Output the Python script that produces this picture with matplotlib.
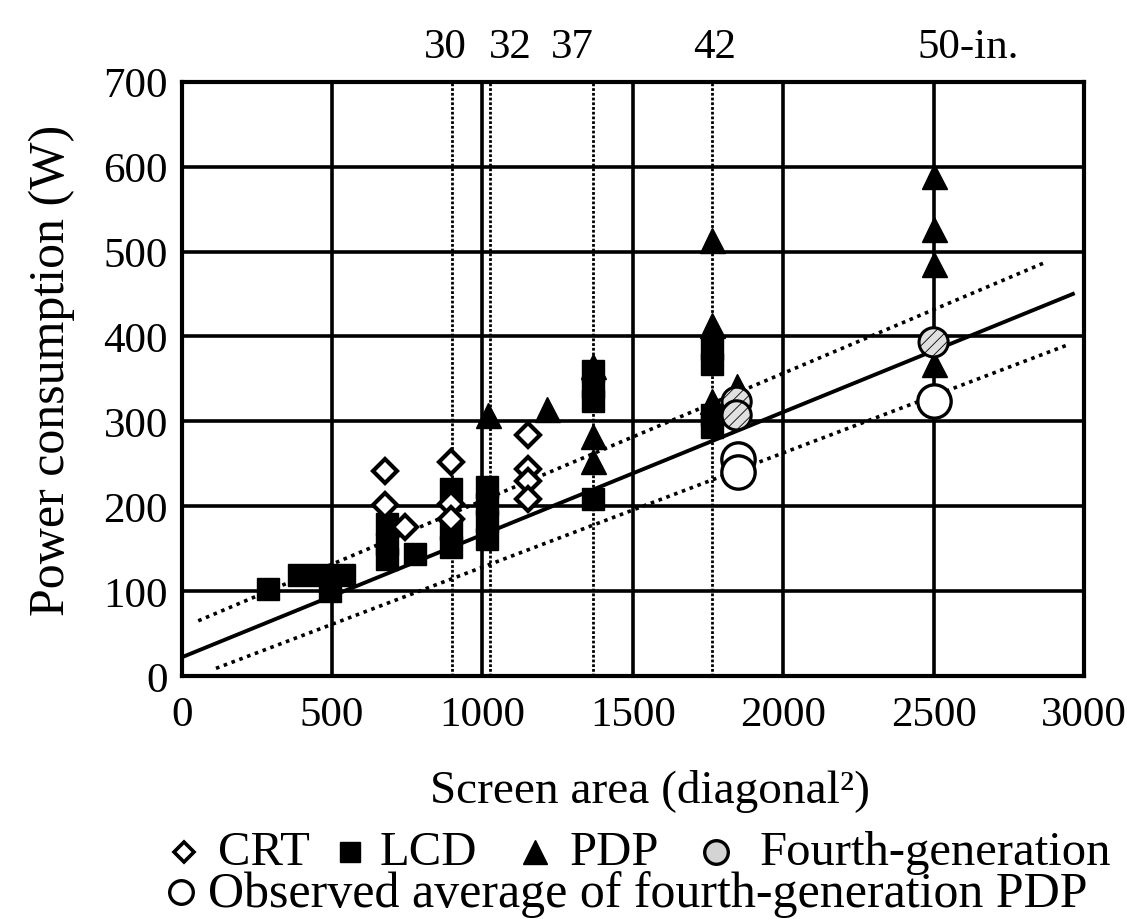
import numpy as np
import matplotlib
matplotlib.use("Agg")
import matplotlib.pyplot as plt
from matplotlib.lines import Line2D

plt.rcParams['font.family'] = ['Liberation Serif', 'DejaVu Serif']

# ---------------- data ----------------
crt_x = [676, 676, 743, 895, 895, 895, 1152, 1152, 1152, 1152]
crt_y = [242, 201, 176, 252, 203, 185, 284, 244, 230, 209]

lcd_x = [287, 391, 464, 540, 493, 681, 681, 681, 776, 895, 895, 895,
         1015, 1015, 1015, 1015, 1369, 1369, 1369, 1369, 1764, 1764, 1764, 1764]
lcd_y = [103, 119, 119, 119, 100, 179, 156, 138, 144, 220, 173, 152,
         223, 203, 183, 161, 359, 340, 324, 209, 385, 368, 307, 293]

pdp_x = [1018, 1213, 1369, 1369, 1369, 1764, 1764, 1764, 1845, 2500, 2500, 2500, 2500]
pdp_y = [307, 315, 365, 283, 253, 513, 413, 324, 342, 589, 527, 485, 368]

gen4_x = [1845, 1845, 2500]
gen4_y = [323, 307, 393]

obs_x = [1850, 1850, 2500]
obs_y = [256, 240, 324]

fit_x = [0, 2963]
fit_y = [22, 450]
upper_x = [55, 2870]
upper_y = [65, 487]
lower_x = [114, 2953]
lower_y = [9, 391]

x_ticks = [0, 500, 1000, 1500, 2000, 2500, 3000]
y_ticks = [0, 100, 200, 300, 400, 500, 600, 700]

size_inches = [30, 32, 37, 42]
top_labels = ['30', '32', '37', '42', '50-in.']
top_label_x = [876, 1092, 1298, 1773, 2614]

# ---------------- figure ----------------
W, H = 1127, 920
fig = plt.figure(figsize=(W / 100, H / 100), dpi=100)
ax = fig.add_axes([181.7 / W, 1 - 677 / H, (1084 - 181.7) / W, (677 - 82.7) / H])
ax.set_xlim(0, 3000)
ax.set_ylim(0, 700)
ax.set_xticks(x_ticks)
ax.set_yticks(y_ticks)
ax.tick_params(labelsize=31, length=0, pad=10)
ax.tick_params(axis='x', pad=14)
for s in ax.spines.values():
    s.set_linewidth(3)
ax.grid(True, color='black', linewidth=2.6, zorder=1)
ax.set_axisbelow(True)

for d in size_inches:
    ax.axvline(d ** 2, color='black', linewidth=2.0, linestyle=(0, (1, 0.7)), zorder=1)

ax.plot(fit_x, fit_y, color='black', linewidth=2.8, zorder=2)
ax.plot(upper_x, upper_y, color='black', linewidth=2.6, linestyle=(0, (1, 1.3)), zorder=2)
ax.plot(lower_x, lower_y, color='black', linewidth=2.6, linestyle=(0, (1, 1.3)), zorder=2)

ax.plot(lcd_x, lcd_y, linestyle='none', marker='s', markersize=16, color='black', zorder=3)
ax.plot(crt_x, crt_y, linestyle='none', marker='D', markersize=12, markerfacecolor='white',
        markeredgecolor='black', markeredgewidth=3, zorder=4)
ax.plot(pdp_x, pdp_y, linestyle='none', marker='^', markersize=18, color='black', zorder=4)
plt.rcParams['hatch.linewidth'] = 0.6
ax.scatter(gen4_x, gen4_y, s=21 ** 2, marker='o', facecolor='#e0e0e0', edgecolor='black',
           linewidth=2.2, hatch='///', zorder=5)
ax.scatter(obs_x, obs_y, s=24 ** 2, marker='o', facecolor='white', edgecolor='black',
           linewidth=2.4, zorder=5)

# top labels (screen sizes)
tr = ax.get_xaxis_transform()
for lab, xp in zip(top_labels, top_label_x):
    ax.text(xp, 1.058, lab, transform=tr, ha='center', va='center', fontsize=31)

fig.text(52 / W, 1 - 370 / H, 'Power consumption (W)', rotation=90, ha='center', va='center',
         fontsize=36)
fig.text(650 / W, 1 - 792 / H, 'Screen area (diagonal²)', ha='center', va='center', fontsize=34)

# custom legend
def fx(p):
    return p / W

def fy(p):
    return 1 - p / H

row1, row2 = 853, 893
fs = 35
fig.add_artist(Line2D([fx(184)], [fy(row1)], marker='D', markersize=10, markerfacecolor='white',
                      markeredgecolor='black', markeredgewidth=2.6, transform=fig.transFigure))
fig.text(fx(218), fy(row1), 'CRT', ha='left', va='center', fontsize=fs)
fig.add_artist(Line2D([fx(350)], [fy(row1)], marker='s', markersize=14, color='black',
                      transform=fig.transFigure))
fig.text(fx(380), fy(row1), 'LCD', ha='left', va='center', fontsize=fs)
fig.add_artist(Line2D([fx(535)], [fy(row1)], marker='^', markersize=17, color='black',
                      transform=fig.transFigure))
fig.text(fx(570), fy(row1), 'PDP', ha='left', va='center', fontsize=fs)
fig.add_artist(Line2D([fx(716)], [fy(row1)], marker='o', markersize=17, markerfacecolor='#d4d4d4',
                      markeredgecolor='black', markeredgewidth=2.4, transform=fig.transFigure))
fig.text(fx(760), fy(row1), 'Fourth-generation', ha='left', va='center', fontsize=fs)
fig.add_artist(Line2D([fx(181)], [fy(row2)], marker='o', markersize=17, markerfacecolor='white',
                      markeredgecolor='black', markeredgewidth=2.4, transform=fig.transFigure))
fig.text(fx(208), fy(907), 'Observed average of fourth-generation PDP', ha='left', va='baseline',
         fontsize=36)

fig.savefig('out.png', dpi=100)
